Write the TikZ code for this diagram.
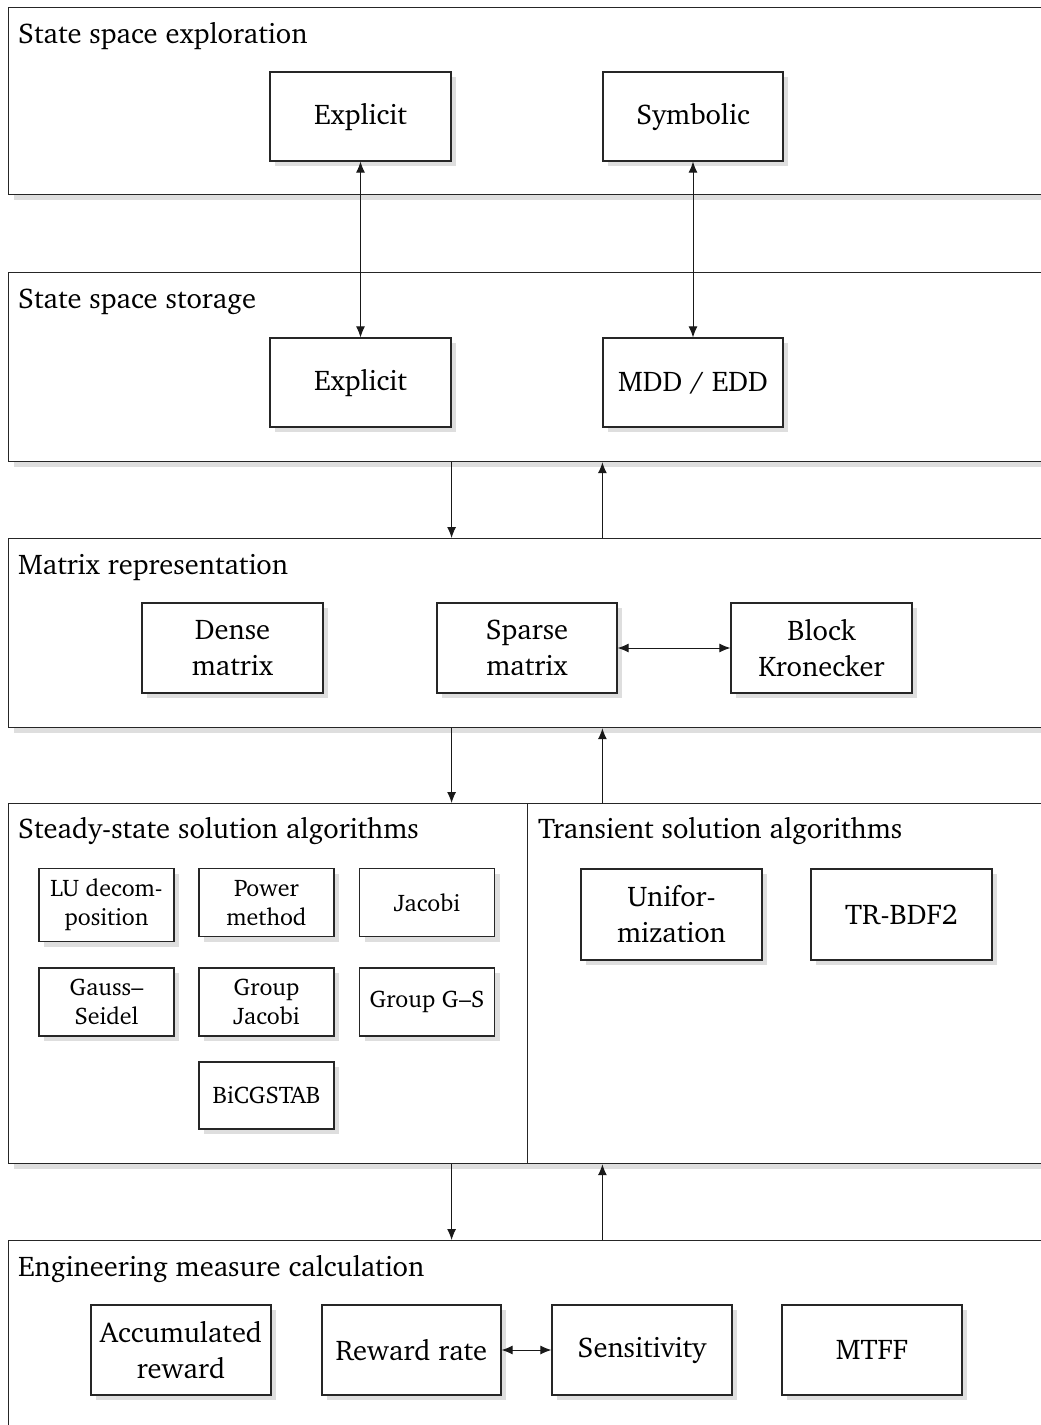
\documentclass[tikz,border=0pt]{standalone}
\usepackage[T1]{fontenc}
\usepackage{charter}
\usetikzlibrary{arrows.meta,shadows}
\newcommand\bigf{\fontsize{28.5}{36}\selectfont}
\newcommand\smallf{\fontsize{24}{29}\selectfont}
\tikzset{
  shad/.style={drop shadow={shadow xshift=5pt,shadow yshift=-5pt,fill=black!13,opacity=1}},
  layer/.style={draw=black!85,line width=1.2pt,fill=white,shad,anchor=north west,inner sep=0pt},
  box/.style={draw=black!85,line width=1.2pt,fill=white,shad,align=center,font=\bigf,inner sep=0pt},
  sbox/.style={box,font=\smallf,minimum width=135pt,minimum height=68pt},
  mbox/.style={box,minimum width=181pt,minimum height=90pt},
  title/.style={anchor=base west,font=\bigf,inner sep=0pt},
  tip/.tip={Latex[length=11pt,width=9pt]},
  arr/.style={line width=1pt,draw=black!90,-tip},
  darr/.style={line width=1pt,draw=black!90,tip-tip},
}
\begin{document}
\begin{tikzpicture}[x=1pt,y=-1pt]
\useasboundingbox (0,0) rectangle (1041,1425);
\clip (0,0) rectangle (1041,1425);
% layers
\node[layer,minimum width=1042pt,minimum height=187pt] (L1) at (8,7) {};
\node[layer,minimum width=1042pt,minimum height=189pt] (L2) at (8,272) {};
\node[layer,minimum width=1042pt,minimum height=189pt] (L3) at (8,538) {};
\node[layer,minimum width=519pt,minimum height=360pt] (L4a) at (8,803) {};
\node[layer,minimum width=523pt,minimum height=360pt] (L4b) at (527,803) {};
\node[layer,minimum width=1042pt,minimum height=205pt] (L5) at (8,1240) {};
% titles
\node[title] (T1) at (18,43) {State space exploration};
\node[title] (T2) at (18,308) {State space storage};
\node[title] (T3) at (18,574) {Matrix representation};
\node[title] (T4a) at (18,838) {Steady-state solution algorithms};
\node[title] (T4b) at (538,838) {Transient solution algorithms};
\node[title] (T5) at (18,1276) {Engineering measure calculation};
% layer 1
\node[mbox,minimum height=89pt] (E1) at (360.5,116.5) {Explicit};
\node[mbox,minimum height=89pt,minimum width=180pt] (S1) at (693,116.5) {Symbolic};
% layer 2
\node[mbox,minimum height=89pt] (E2) at (360.5,382.5) {Explicit};
\node[mbox,minimum height=89pt,minimum width=180pt] (M2) at (693,382.5) {MDD / EDD};
% layer 3
\node[mbox] (D3) at (232.5,648) {Dense\\matrix};
\node[mbox,minimum width=180pt] (Sp3) at (527,648) {Sparse\\matrix};
\node[mbox] (B3) at (821.5,648) {Block\\Kronecker};
% layer 4 steady
\node[sbox,minimum height=73pt] (LU) at (106.5,905) {LU decom-\\position};
\node[sbox] (PM) at (266.5,902.5) {Power\\method};
\node[sbox] (JA) at (427,902.5) {Jacobi};
\node[sbox] (GS) at (106.5,1002) {Gauss--\\Seidel};
\node[sbox] (GJ) at (266.5,1002) {Group\\Jacobi};
\node[sbox] (GG) at (427,1002) {Group G--S};
\node[sbox,minimum height=67pt] (BI) at (266.5,1095.5) {BiCGSTAB};
% layer 4 transient
\node[mbox,minimum height=91pt] (UN) at (671.5,914.5) {Unifor-\\mization};
\node[mbox,minimum height=91pt] (TR) at (901.5,914.5) {TR-BDF2};
% layer 5
\node[mbox,minimum width=180pt] (AR) at (181,1350) {Accumulated\\reward};
\node[mbox,minimum width=179pt] (RR) at (411.5,1350) {Reward rate};
\node[mbox,minimum width=180pt] (SE) at (642,1350) {Sensitivity};
\node[mbox,minimum width=180pt] (MT) at (872,1350) {MTFF};
% connectors
\draw[darr] (E1) -- (E2);
\draw[darr] (S1) -- (M2);
\draw[arr] (L2.south -| E1.east) -- (L3.north -| E1.east);
\draw[arr] (L3.north -| S1.west) -- (L2.south -| S1.west);
\draw[darr] (Sp3) -- (B3);
\draw[arr] (L3.south -| E1.east) -- (L4a.north -| E1.east);
\draw[arr] (L4b.north -| S1.west) -- (L3.south -| S1.west);
\draw[arr] (L4a.south -| E1.east) -- (L5.north -| E1.east);
\draw[arr] (L5.north -| S1.west) -- (L4b.south -| S1.west);
\draw[darr] (RR) -- (SE);
\end{tikzpicture}
\end{document}
